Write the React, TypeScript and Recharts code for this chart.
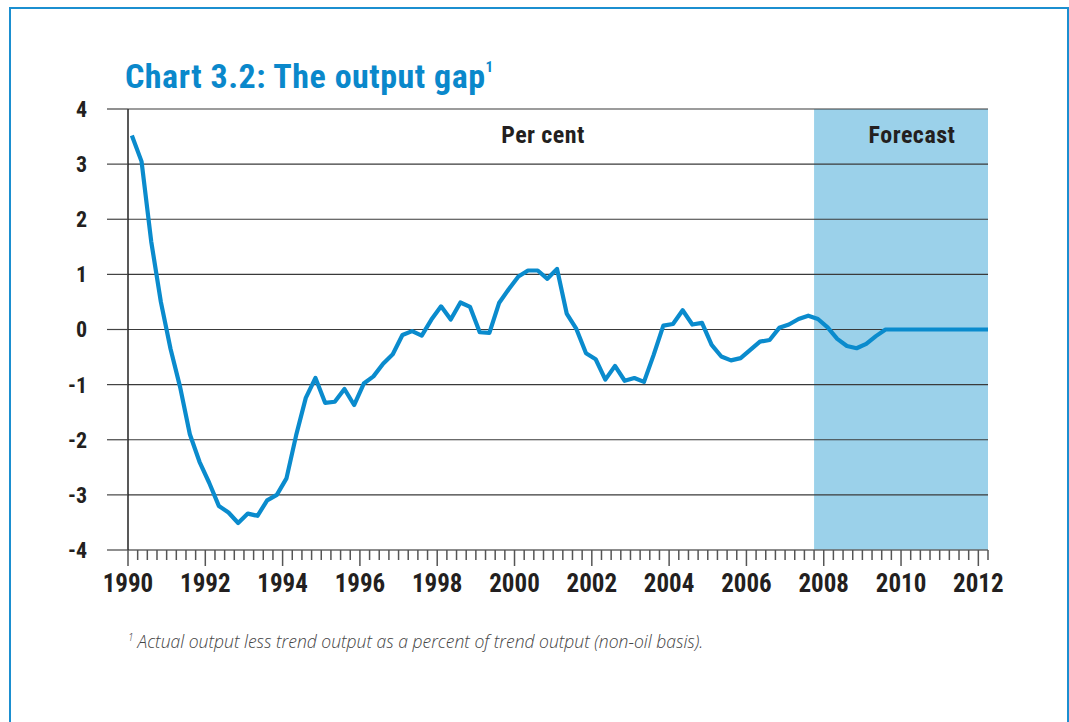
import React from 'react';
import { LineChart, Line, XAxis, YAxis, ReferenceArea, ReferenceLine } from 'recharts';

// Quarterly output gap, per cent, starting 1990 Q1 (mid-quarter positions)
const START_YEAR = 1990;
const gapValues: number[] = [
  3.52, 3.05, 1.6, 0.5, -0.35, -1.05, -1.9, -2.4, -2.78, -3.2,
  -3.32, -3.51, -3.34, -3.38, -3.1, -3.0, -2.7, -1.92, -1.24, -0.88,
  -1.33, -1.31, -1.08, -1.37, -0.98, -0.85, -0.62, -0.45, -0.1, -0.03,
  -0.11, 0.18, 0.42, 0.18, 0.49, 0.41, -0.05, -0.06, 0.48, 0.73,
  0.96, 1.07, 1.07, 0.92, 1.1, 0.29, 0.01, -0.43, -0.54, -0.91,
  -0.66, -0.93, -0.88, -0.95, -0.46, 0.07, 0.1, 0.35, 0.09, 0.12,
  -0.28, -0.49, -0.56, -0.52, -0.37, -0.22, -0.19, 0.03, 0.09, 0.19,
  0.25, 0.19, 0.04, -0.17, -0.3, -0.34, -0.26, -0.12, 0,
  0, 0, 0, 0, 0, 0, 0, 0, 0, 0, 0,
];

const years: number[] = [1990, 1991, 1992, 1993, 1994, 1995, 1996, 1997, 1998, 1999, 2000, 2001, 2002, 2003, 2004, 2005, 2006, 2007, 2008, 2009, 2010, 2011, 2012];
const yearLabels: string[] = ['1990', '1992', '1994', '1996', '1998', '2000', '2002', '2004', '2006', '2008', '2010', '2012'];
const yTicks: number[] = [-4, -3, -2, -1, 0, 1, 2, 3, 4];
const yTickLabels: string[] = ['-4', '-3', '-2', '-1', '0', '1', '2', '3', '4'];
const forecastStart = 2007.75;
const axisEnd = 2012.25;

const data = gapValues.map((v, i) => ({ t: START_YEAR + 0.1 + 0.25 * i, gap: v }));

const quarterTicks: number[] = [];
years.forEach((y) => {
  [0, 0.25, 0.5, 0.75].forEach((q) => {
    if (y + q <= axisEnd + 1e-9) quarterTicks.push(y + q);
  });
});

const NARROW = "'Liberation Sans Narrow', 'Arial Narrow', 'Roboto Condensed', 'Open Sans', sans-serif";
const TEXT_DARK = '#231f20';
const BLUE = '#0a8bcd';

const XTick = (props: any) => {
  const { x, y, payload } = props;
  const v = payload.value as number;
  const yr = Math.round(v);
  const isYear = Math.abs(v - yr) < 1e-6;
  const label = isYear ? yearLabels.find((l) => Number(l) === yr) : undefined;
  const major = !!label;
  return (
    <g>
      <line x1={x} x2={x} y1={y} y2={y + (major ? 16 : 10)} stroke="#555" strokeWidth={1.5} />
      {label && (
        <text x={x} y={y + 42} textAnchor="middle" fontFamily={NARROW} fontWeight={700} fontSize={25} fill={TEXT_DARK}>
          {label}
        </text>
      )}
    </g>
  );
};

const YTick = (props: any) => {
  const { x, y, payload } = props;
  const idx = yTicks.indexOf(payload.value);
  return (
    <text x={x} y={y} dy="0.36em" textAnchor="end" fontFamily={NARROW} fontWeight={700} fontSize={22} fill={TEXT_DARK}>
      {yTickLabels[idx]}
    </text>
  );
};

export default function App() {
  return (
    <div style={{ position: 'relative', width: 1069, height: 722, overflow: 'hidden', background: '#fff' }}>
      <style>{`body{margin:0;overflow:hidden;}`}</style>
      <div
        style={{
          position: 'absolute', left: 9, top: 7, width: 1060, height: 800,
          boxSizing: 'border-box', border: '2.5px solid #1b8fd0',
        }}
      />
      <div style={{ position: 'absolute', left: 0, top: 0 }}>
        <LineChart width={1069} height={722} data={data} margin={{ top: 109, right: 81, bottom: 132, left: 68 }}>
          <XAxis
            dataKey="t"
            type="number"
            domain={[1990, axisEnd]}
            allowDataOverflow
            ticks={quarterTicks}
            interval={0}
            tickSize={0}
            tickMargin={0}
            tickLine={false}
            tick={<XTick />}
            height={40}
            axisLine={{ stroke: '#666', strokeWidth: 1.5 }}
          />
          <YAxis
            type="number"
            domain={[-4, 4]}
            ticks={yTicks}
            interval={0}
            width={60}
            tickSize={21}
            tickMargin={20}
            tickLine={{ stroke: '#444', strokeWidth: 1.2 }}
            axisLine={{ stroke: '#222', strokeWidth: 1.5 }}
            tick={<YTick />}
          />
          <ReferenceArea x1={forecastStart} x2={axisEnd} y1={-4} y2={4} fill="#9bd1ea" fillOpacity={1} stroke="none" />
          {yTicks.filter((v) => v > -4).map((v) => (
            <ReferenceLine key={v} y={v} stroke="#3a3a3a" strokeWidth={1.2} />
          ))}
          <Line
            type="linear"
            dataKey="gap"
            stroke={BLUE}
            strokeWidth={4.2}
            dot={false}
            strokeLinejoin="round"
            isAnimationActive={false}
          />
        </LineChart>
      </div>
      <svg width={1069} height={722} style={{ position: 'absolute', left: 0, top: 0, pointerEvents: 'none' }}>
        <text x={125} y={88} fontFamily={NARROW} fontWeight={700} fontSize={34} letterSpacing={0.5} fill="#0a88cb">
          Chart 3.2: The output gap
          <tspan fontSize={15} dy={-16}>1</tspan>
        </text>
        <text x={543} y={143} textAnchor="middle" fontFamily={NARROW} fontWeight={700} fontSize={24} letterSpacing={0.4} fill={TEXT_DARK}>
          Per cent
        </text>
        <text x={912} y={143} textAnchor="middle" fontFamily={NARROW} fontWeight={700} fontSize={24} letterSpacing={0.5} fill={TEXT_DARK}>
          Forecast
        </text>
        <text x={128} y={648} fontFamily="'Open Sans', sans-serif" fontStyle="italic" fontWeight={300} fontSize={17.5} fill="#444">
          <tspan fontSize={10} dy={-7}>1</tspan>
          <tspan dy={7} dx={4}>Actual output less trend output as a percent of trend output (non-oil basis).</tspan>
        </text>
      </svg>
    </div>
  );
}
